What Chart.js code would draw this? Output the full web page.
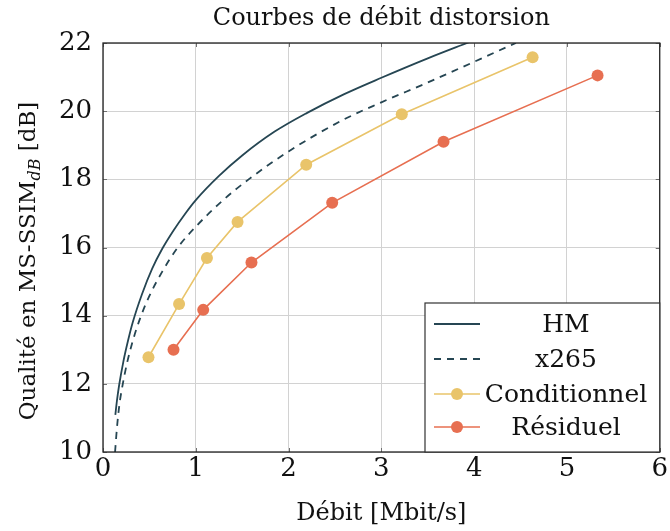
<!DOCTYPE html>
<html>
<head>
<meta charset="utf-8">
<script src="https://cdn.jsdelivr.net/npm/chart.js@4/dist/chart.umd.min.js"></script>
<style>
  html, body { margin: 0; padding: 0; background: #fff; }
  #wrap { width: 670px; height: 531px; }
</style>
</head>
<body>
<div id="wrap"><canvas id="rdChart" width="670" height="531"></canvas></div>
<script>
// --- data ---
const hmX = [0.133, 0.15, 0.175, 0.22, 0.27, 0.32, 0.42, 0.53, 0.64, 0.76, 0.88, 1.0, 1.25, 1.5, 1.85, 2.2, 2.6, 3.0, 3.5, 3.95];
const hmY = [11.09, 11.5, 11.98, 12.66, 13.27, 13.8, 14.63, 15.38, 15.97, 16.5, 16.97, 17.39, 18.1, 18.7, 19.4, 19.95, 20.5, 20.98, 21.55, 22.03];

const x265X = [0.13, 0.15, 0.175, 0.21, 0.26, 0.32, 0.4, 0.5, 0.64, 0.8, 1.0, 1.29, 1.58, 2.0, 2.57, 3.0, 3.49, 4.45];
const x265Y = [10.0, 10.7, 11.35, 11.95, 12.62, 13.25, 13.92, 14.58, 15.3, 15.98, 16.61, 17.38, 18.02, 18.82, 19.72, 20.26, 20.83, 22.0];

const condX = [0.49, 0.82, 1.12, 1.45, 2.19, 3.22, 4.63];
const condY = [12.78, 14.34, 15.69, 16.75, 18.43, 19.91, 21.58];

const resX = [0.76, 1.08, 1.60, 2.47, 3.67, 5.33];
const resY = [13.0, 14.17, 15.56, 17.31, 19.10, 21.05];

const xTicks = [0, 1, 2, 3, 4, 5, 6];
const yTicks = [10, 12, 14, 16, 18, 20, 22];

const seriesNames = ['HM', 'x265', 'Conditionnel', 'Résiduel'];
const titleText = 'Courbes de débit distorsion';
const xTitle = 'Débit [Mbit/s]';

const FONT = "'DejaVu Serif', serif";
const C_HM = '#264653';
const C_COND = '#e9c46a';
const C_RES = '#e76f51';

const pts = (xs, ys) => xs.map((x, i) => ({ x: x, y: ys[i] }));

// --- custom drawing: frame, inner ticks, legend, titles ---
const decorPlugin = {
    id: 'decor',
    afterDraw(chart) {
        const ctx = chart.ctx;
        const a = chart.chartArea;
        const sx = chart.scales.x, sy = chart.scales.y;
        ctx.save();

        // inner tick marks
        ctx.strokeStyle = '#707070';
        ctx.lineWidth = 1;
        ctx.beginPath();
        xTicks.forEach(v => {
            const px = Math.round(sx.getPixelForValue(v)) + 0.5;
            ctx.moveTo(px, a.bottom); ctx.lineTo(px, a.bottom - 4);
            ctx.moveTo(px, a.top); ctx.lineTo(px, a.top + 4);
        });
        yTicks.forEach(v => {
            const py = Math.round(sy.getPixelForValue(v)) + 0.5;
            ctx.moveTo(a.left, py); ctx.lineTo(a.left + 4, py);
            ctx.moveTo(a.right, py); ctx.lineTo(a.right - 4, py);
        });
        ctx.stroke();

        // frame
        ctx.strokeStyle = '#222';
        ctx.lineWidth = 1.3;
        ctx.strokeRect(a.left, a.top, a.right - a.left, a.bottom - a.top);

        // legend box
        const lx = 425, ly = 303;
        ctx.fillStyle = '#fff';
        ctx.fillRect(lx, ly, a.right - lx, a.bottom - ly);
        ctx.strokeStyle = '#333';
        ctx.lineWidth = 1.2;
        ctx.strokeRect(lx, ly, a.right - lx, a.bottom - ly);

        const rows = [324, 359, 394, 427];
        const styles = [
            { c: C_HM, dash: [], dot: false },
            { c: C_HM, dash: [7, 6], dot: false },
            { c: C_COND, dash: [], dot: true },
            { c: C_RES, dash: [], dot: true }
        ];
        ctx.font = '25px ' + FONT;
        ctx.textAlign = 'center';
        ctx.textBaseline = 'middle';
        rows.forEach((y, i) => {
            const s = styles[i];
            ctx.strokeStyle = s.c;
            ctx.lineWidth = s.dot ? 1.6 : 1.8;
            ctx.setLineDash(s.dash);
            ctx.beginPath();
            ctx.moveTo(434, y); ctx.lineTo(480, y);
            ctx.stroke();
            ctx.setLineDash([]);
            if (s.dot) {
                ctx.fillStyle = s.c;
                ctx.beginPath();
                ctx.arc(457, y, 6, 0, Math.PI * 2);
                ctx.fill();
            }
            ctx.fillStyle = '#111';
            ctx.fillText(seriesNames[i], 566, y + 1);
        });

        // title
        ctx.font = '24px ' + FONT;
        ctx.fillStyle = '#111';
        ctx.fillText(titleText, (a.left + a.right) / 2, 19);

        // x axis title
        ctx.fillText(xTitle, (a.left + a.right) / 2, 514);

        // y axis title with subscript
        ctx.translate(27, 261);
        ctx.rotate(-Math.PI / 2);
        const p1 = 'Qualité en MS-SSIM', p2 = 'dB', p3 = ' [dB]';
        const fMain = '23px ' + FONT, fSub = 'italic 16px ' + FONT;
        ctx.font = fMain; const w1 = ctx.measureText(p1).width, w3 = ctx.measureText(p3).width;
        ctx.font = fSub; const w2 = ctx.measureText(p2).width;
        let x0 = -(w1 + w2 + w3) / 2;
        ctx.textAlign = 'left';
        ctx.textBaseline = 'alphabetic';
        ctx.font = fMain; ctx.fillText(p1, x0, 8); x0 += w1;
        ctx.font = fSub; ctx.fillText(p2, x0, 13); x0 += w2;
        ctx.font = fMain; ctx.fillText(p3, x0, 8);

        ctx.restore();
    }
};

new Chart(document.getElementById('rdChart').getContext('2d'), {
    type: 'line',
    data: {
        datasets: [
            {
                label: seriesNames[0], data: pts(hmX, hmY),
                borderColor: C_HM, borderWidth: 1.8, pointRadius: 0,
                cubicInterpolationMode: 'monotone', fill: false
            },
            {
                label: seriesNames[1], data: pts(x265X, x265Y),
                borderColor: C_HM, borderWidth: 1.8, borderDash: [7, 6], pointRadius: 0,
                cubicInterpolationMode: 'monotone', fill: false
            },
            {
                label: seriesNames[2], data: pts(condX, condY),
                borderColor: C_COND, backgroundColor: C_COND, borderWidth: 1.6,
                pointRadius: 6, pointBorderWidth: 0, tension: 0, fill: false
            },
            {
                label: seriesNames[3], data: pts(resX, resY),
                borderColor: C_RES, backgroundColor: C_RES, borderWidth: 1.6,
                pointRadius: 6, pointBorderWidth: 0, tension: 0, fill: false
            }
        ]
    },
    options: {
        responsive: false,
        animation: false,
        layout: { padding: { top: 43, right: 8, left: 0, bottom: 0 } },
        plugins: { legend: { display: false }, title: { display: false }, tooltip: { enabled: false } },
        scales: {
            x: {
                type: 'linear', min: 0, max: 6,
                afterBuildTicks: s => { s.ticks = xTicks.map(v => ({ value: v })); },
                afterFit: s => { s.height = 79; },
                grid: { color: '#d2d2d2', lineWidth: 1, drawTicks: false },
                border: { display: false },
                ticks: { color: '#111', padding: 2, font: { family: FONT, size: 26 } }
            },
            y: {
                type: 'linear', min: 10, max: 22,
                afterBuildTicks: s => { s.ticks = yTicks.map(v => ({ value: v })); },
                afterFit: s => { s.width = 103; },
                grid: { color: '#d2d2d2', lineWidth: 1, drawTicks: false },
                border: { display: false },
                ticks: { color: '#111', padding: 11, font: { family: FONT, size: 26 } }
            }
        }
    },
    plugins: [decorPlugin]
});
</script>
</body>
</html>
